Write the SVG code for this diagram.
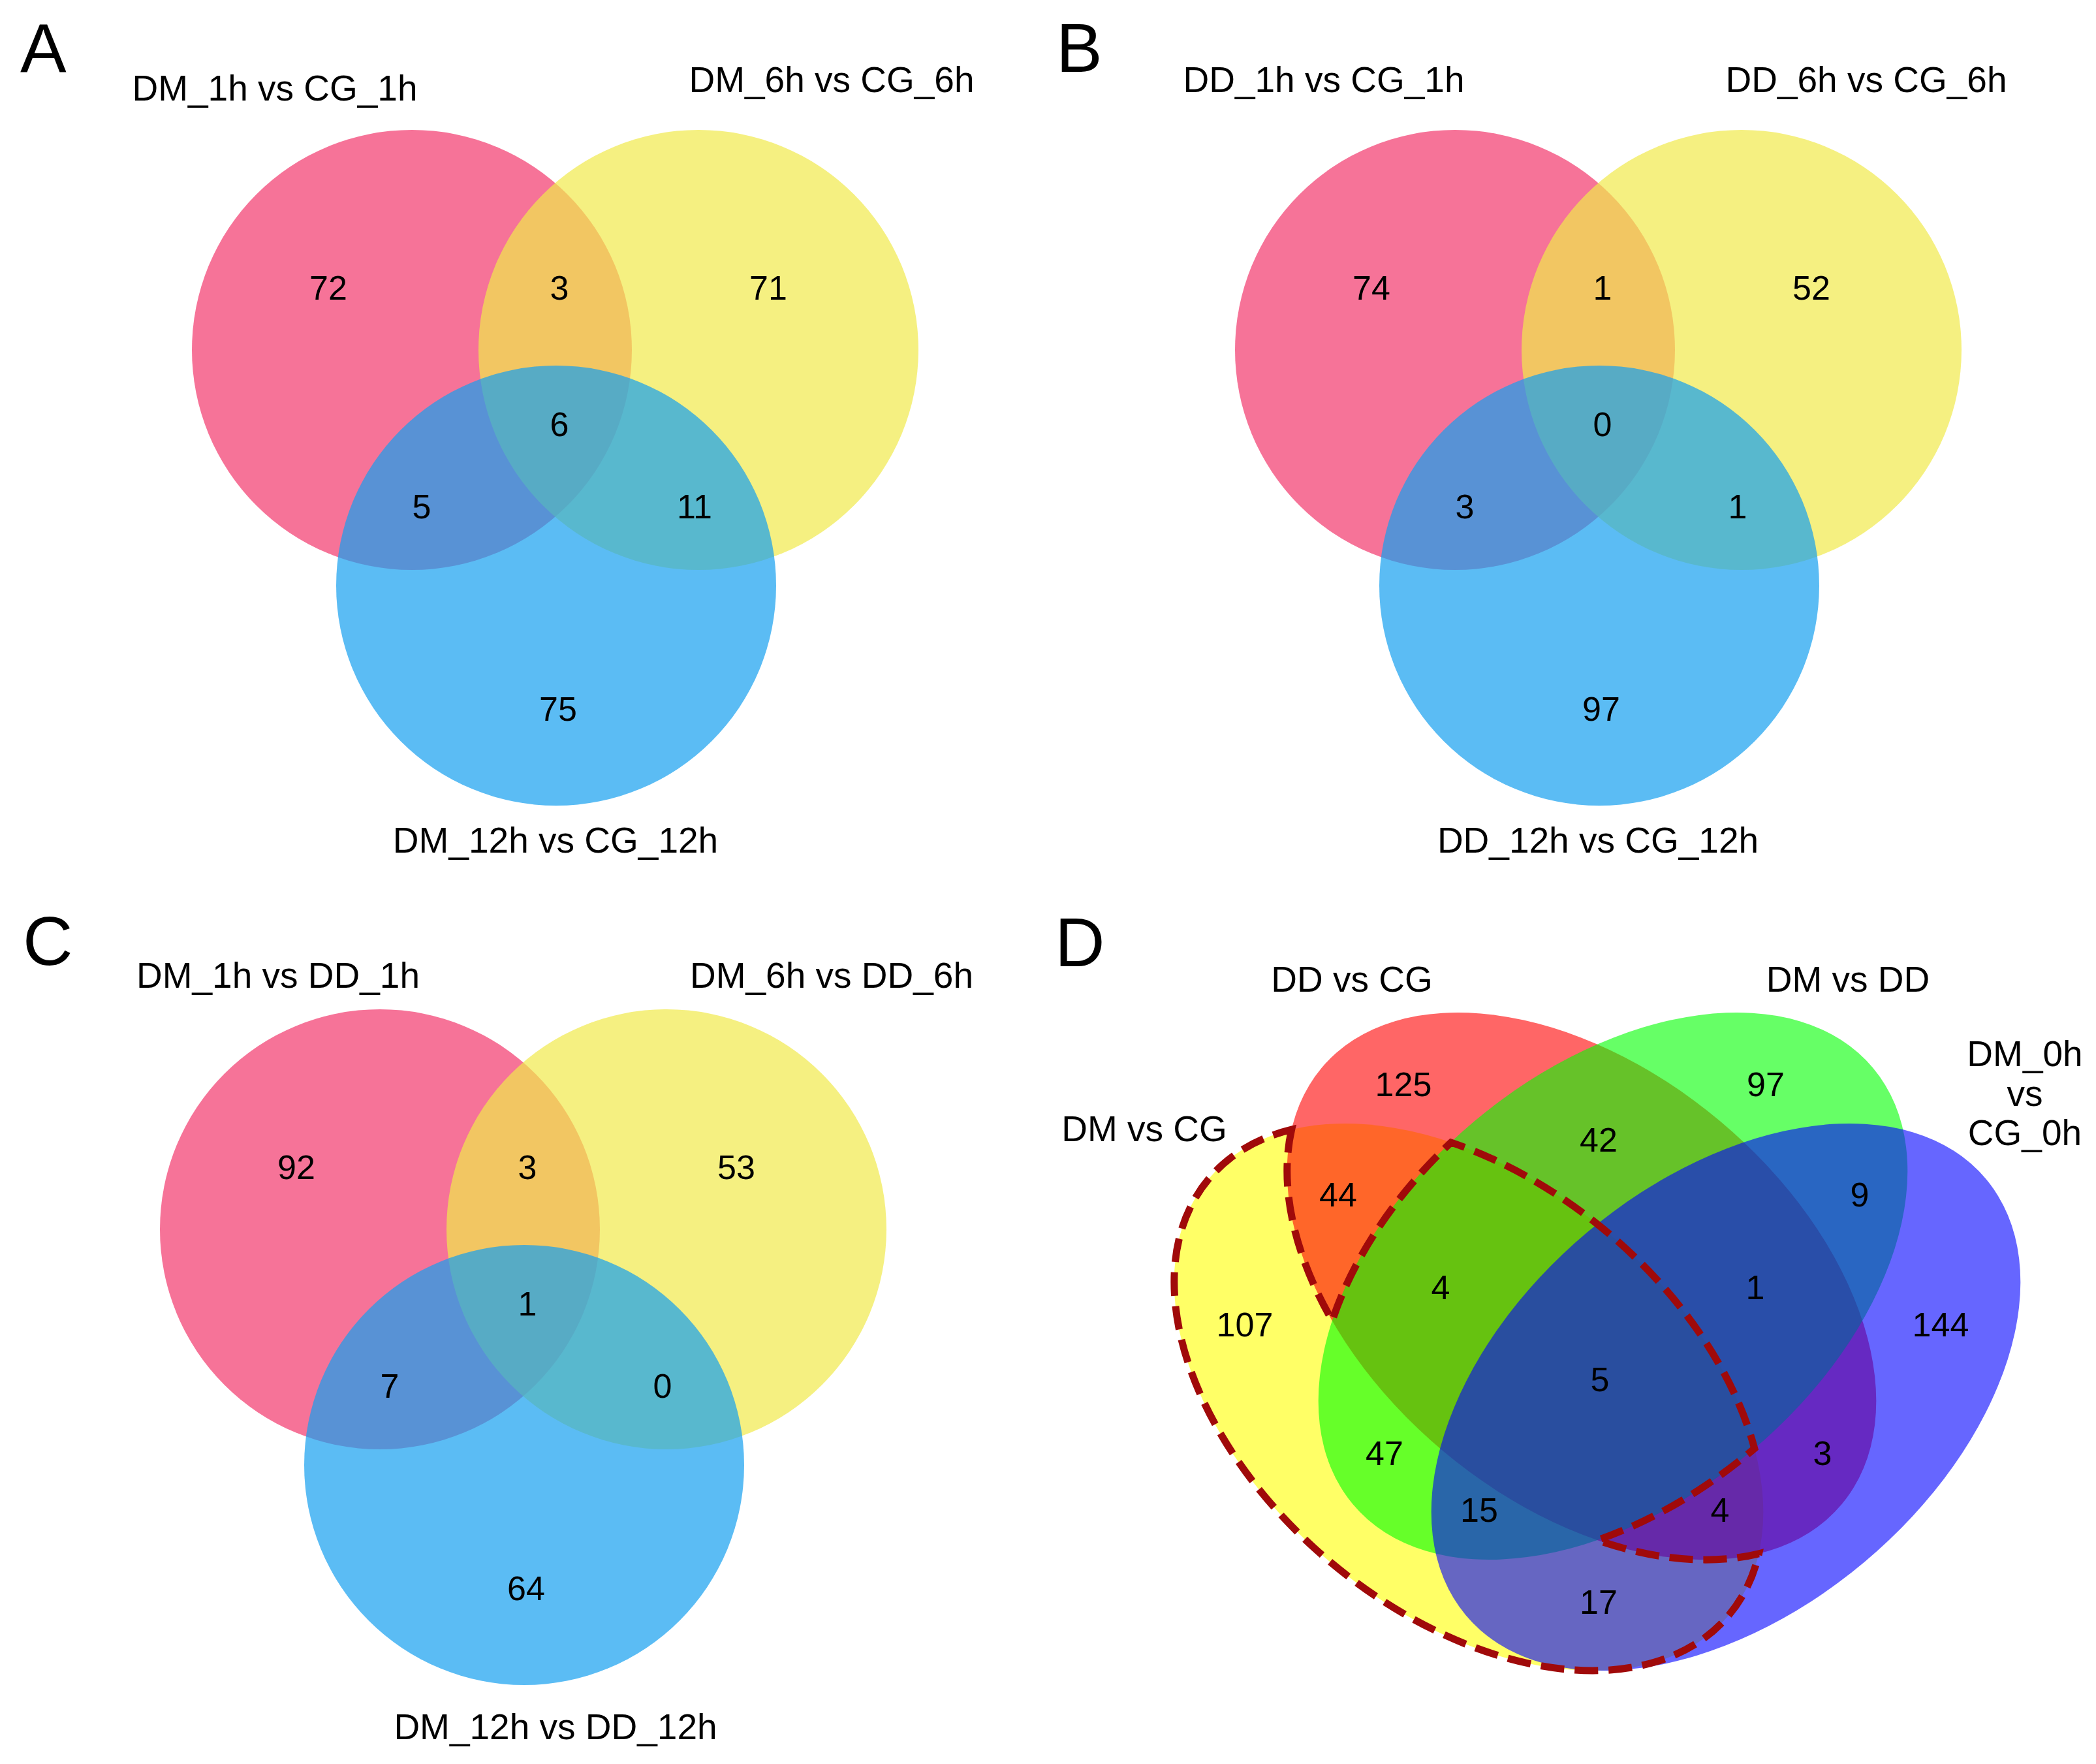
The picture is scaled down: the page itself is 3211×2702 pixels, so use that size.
<svg xmlns="http://www.w3.org/2000/svg" width="3211" height="2702" viewBox="0 0 3211 2702">
<style>
text { font-family: "Liberation Sans", Arial, sans-serif; fill: #000; }
.panel { font-size: 106px; }
.lab { font-size: 55px; text-anchor: middle; }
.num { font-size: 52px; text-anchor: middle; }
.p { fill: #F2376C; fill-opacity: 0.7; }
.y { fill: #F1EA4C; fill-opacity: 0.7; }
.b { fill: #159FF0; fill-opacity: 0.7; }
.dy { fill: #FFFF00; fill-opacity: 0.6; }
.dr { fill: #FF0000; fill-opacity: 0.6; }
.dg { fill: #00FF00; fill-opacity: 0.6; }
.db { fill: #0000FF; fill-opacity: 0.6; }
.dash { fill: none; stroke: #A00A0A; stroke-width: 11; stroke-dasharray: 36 16; }
</style>
<rect width="3211" height="2702" fill="#FFFFFF"/>

<!-- Panel A -->
<g id="panelA">
  <text class="panel" x="31" y="110">A</text>
  <g id="A-set1"><circle class="p" cx="631" cy="536" r="337"/><text class="lab" x="421" y="154">DM_1h vs CG_1h</text></g>
  <g id="A-set2"><circle class="y" cx="1070" cy="536" r="337"/><text class="lab" x="1274" y="141">DM_6h vs CG_6h</text></g>
  <g id="A-set3"><circle class="b" cx="852" cy="897" r="337"/><text class="lab" x="851" y="1306">DM_12h vs CG_12h</text></g>
  <g id="A-counts">
    <text class="num" x="503" y="459">72</text>
    <text class="num" x="857" y="459">3</text>
    <text class="num" x="1177" y="459">71</text>
    <text class="num" x="857" y="668">6</text>
    <text class="num" x="646" y="794">5</text>
    <text class="num" x="1064" y="794">11</text>
    <text class="num" x="855" y="1104">75</text>
  </g>
</g>

<!-- Panel B -->
<g id="panelB">
  <text class="panel" x="1618" y="110">B</text>
  <g id="B-set1"><circle class="p" cx="2229" cy="536" r="337"/><text class="lab" x="2028" y="141">DD_1h vs CG_1h</text></g>
  <g id="B-set2"><circle class="y" cx="2668" cy="536" r="337"/><text class="lab" x="2859" y="141">DD_6h vs CG_6h</text></g>
  <g id="B-set3"><circle class="b" cx="2450" cy="897" r="337"/><text class="lab" x="2448" y="1306">DD_12h vs CG_12h</text></g>
  <g id="B-counts">
    <text class="num" x="2101" y="459">74</text>
    <text class="num" x="2455" y="459">1</text>
    <text class="num" x="2775" y="459">52</text>
    <text class="num" x="2455" y="668">0</text>
    <text class="num" x="2244" y="794">3</text>
    <text class="num" x="2662" y="794">1</text>
    <text class="num" x="2453" y="1104">97</text>
  </g>
</g>

<!-- Panel C -->
<g id="panelC">
  <text class="panel" x="35" y="1478">C</text>
  <g id="C-set1"><circle class="p" cx="582" cy="1883" r="337"/><text class="lab" x="426" y="1513">DM_1h vs DD_1h</text></g>
  <g id="C-set2"><circle class="y" cx="1021" cy="1883" r="337"/><text class="lab" x="1274" y="1513">DM_6h vs DD_6h</text></g>
  <g id="C-set3"><circle class="b" cx="803" cy="2244" r="337"/><text class="lab" x="851" y="2664">DM_12h vs DD_12h</text></g>
  <g id="C-counts">
    <text class="num" x="454" y="1806">92</text>
    <text class="num" x="808" y="1806">3</text>
    <text class="num" x="1128" y="1806">53</text>
    <text class="num" x="808" y="2015">1</text>
    <text class="num" x="597" y="2141">7</text>
    <text class="num" x="1015" y="2141">0</text>
    <text class="num" x="806" y="2451">64</text>
  </g>
</g>

<!-- Panel D -->
<g id="panelD">
  <text class="panel" x="1616" y="1480">D</text>
  <g id="D-set1"><ellipse class="dy" cx="2250" cy="2140" rx="520" ry="330" transform="rotate(40 2250 2140)"/><text class="lab" x="1753" y="1748">DM vs CG</text></g>
  <g id="D-set2"><ellipse class="dr" cx="2423" cy="1970" rx="520" ry="330" transform="rotate(40 2423 1970)"/><text class="lab" x="2071" y="1519">DD vs CG</text></g>
  <g id="D-set3"><ellipse class="dg" cx="2471" cy="1970" rx="520" ry="330" transform="rotate(-40 2471 1970)"/><text class="lab" x="2831" y="1519">DM vs DD</text></g>
  <g id="D-set4"><ellipse class="db" cx="2644" cy="2140" rx="520" ry="330" transform="rotate(-40 2644 2140)"/>
    <text class="lab" x="3102" y="1633">DM_0h</text>
    <text class="lab" x="3102" y="1694">vs</text>
    <text class="lab" x="3102" y="1754">CG_0h</text>
  </g>
  <g id="D-counts">
    <text class="num" x="2150" y="1679">125</text>
    <text class="num" x="2705" y="1679">97</text>
    <text class="num" x="2449" y="1764">42</text>
    <text class="num" x="2050" y="1848">44</text>
    <text class="num" x="2849" y="1848">9</text>
    <text class="num" x="2207" y="1990">4</text>
    <text class="num" x="2689" y="1990">1</text>
    <text class="num" x="1907" y="2047">107</text>
    <text class="num" x="2973" y="2047">144</text>
    <text class="num" x="2451" y="2131">5</text>
    <text class="num" x="2121" y="2244">47</text>
    <text class="num" x="2792" y="2244">3</text>
    <text class="num" x="2266" y="2331">15</text>
    <text class="num" x="2635" y="2331">4</text>
    <text class="num" x="2449" y="2472">17</text>
  </g>
</g>

<g id="connectors">
  <path class="dash" d="M 1978.7 1730.1 A 520 330 40 0 0 2041 2023 A 520 330 -40 0 1 2222.8 1749.9 A 520 330 40 0 1 2687.8 2218.7 A 520 330 -40 0 1 2447 2359.1 A 520 330 40 0 0 2694.5 2379.8 A 520 330 40 1 1 1978.7 1730.1 Z"/>
</g>
</svg>
